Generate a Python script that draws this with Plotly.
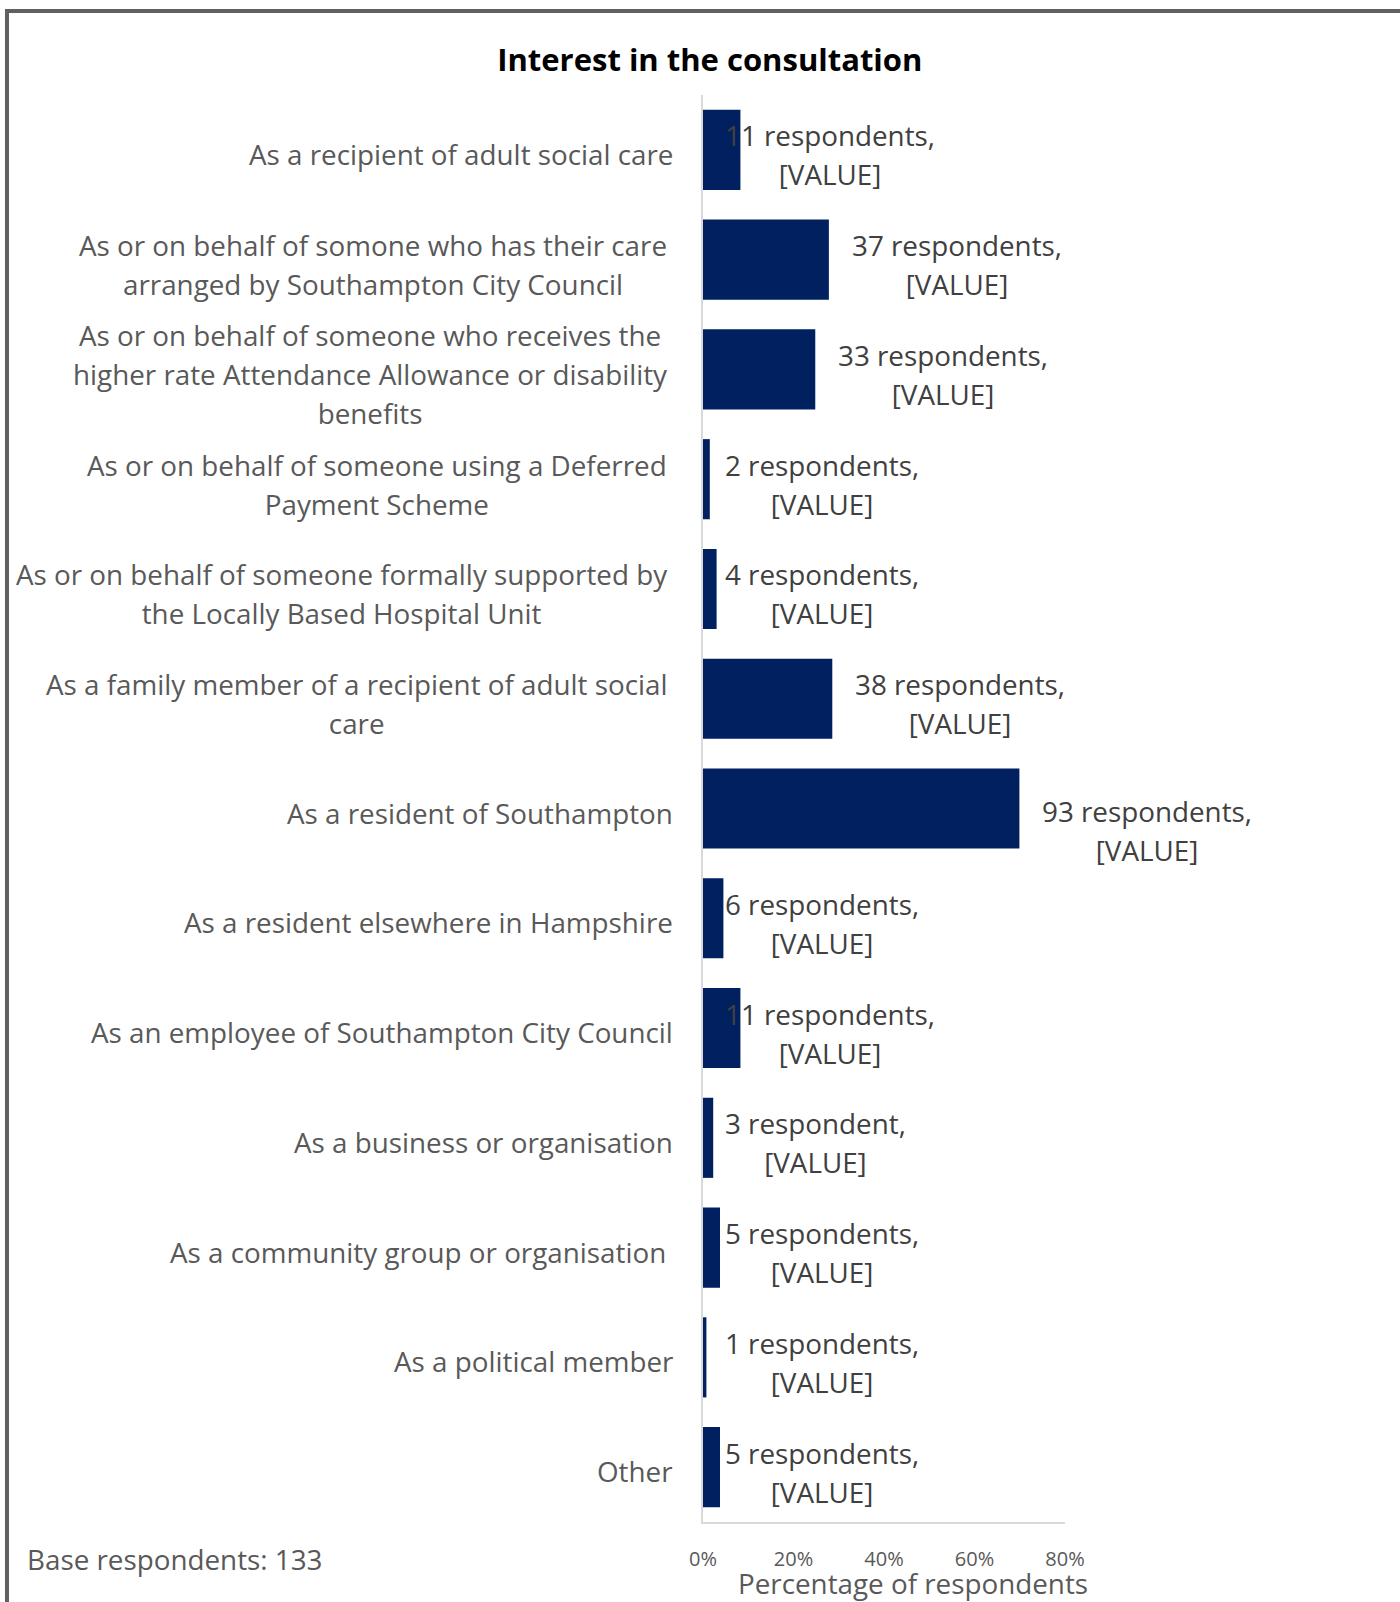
import plotly.graph_objects as go

# Survey responses: why respondents are interested in the consultation
categories = [
    "As a recipient of adult social care",
    "As or on behalf of somone who has their care<br>arranged by Southampton City Council",
    "As or on behalf of someone who receives the<br>higher rate Attendance Allowance or disability<br>benefits",
    "As or on behalf of someone using a Deferred<br>Payment Scheme",
    "As or on behalf of someone formally supported by<br>the Locally Based Hospital Unit",
    "As a family member of a recipient of adult social<br>care",
    "As a resident of Southampton",
    "As a resident elsewhere in Hampshire",
    "As an employee of Southampton City Council",
    "As a business or organisation",
    "As a community group or organisation\u00a0",
    "As a political member",
    "Other",
]
respondents = [11, 37, 33, 2, 4, 38, 93, 6, 11, 3, 5, 1, 5]
respondent_word = ["respondents"] * 9 + ["respondent"] + ["respondents"] * 3
base_respondents = 133
x_ticks = [0, 20, 40, 60, 80]
x_tick_labels = ["0%", "20%", "40%", "60%", "80%"]

FONT = "Open Sans"
LABEL_GREY = "#595959"
VALUE_GREY = "#404040"
NAVY = "#002060"
LABEL_PX = 27.8

pct = [n / base_respondents * 100 for n in respondents]
ypos = list(range(len(categories)))

fig = go.Figure(
    go.Bar(
        x=pct,
        y=ypos,
        orientation="h",
        marker=dict(color=NAVY, line=dict(width=0)),
        width=0.73,
        hoverinfo="skip",
    )
)

annotations = []

# Category labels, centred multi-line blocks right-aligned to the axis
for y, cat in zip(ypos, categories):
    multi = "<br>" in cat
    annotations.append(dict(
        x=0, xref="paper", y=y, yref="y",
        xanchor="right", yanchor="middle", align="center",
        xshift=-34 if multi else -28, yshift=-5 if multi else -4,
        text=f"<span style='font-size:{LABEL_PX}px'>{cat}</span>",
        showarrow=False,
        font=dict(family=FONT, size=30, color=LABEL_GREY),
    ))

# Data labels
for y, n, p, w in zip(ypos, respondents, pct, respondent_word):
    lx = p + 4.6 if p > 15 else 4.5
    annotations.append(dict(
        x=lx, xref="x", y=y, yref="y",
        xanchor="left", yanchor="middle", align="center",
        yshift=-22 if n == max(respondents) else -5,
        text=f"<span style='font-size:{LABEL_PX}px'>{n} {w},<br>[VALUE]</span>",
        showarrow=False,
        font=dict(family=FONT, size=30, color=VALUE_GREY),
    ))

# Base count and axis title
annotations.append(dict(
    x=-1.8743, xref="paper", y=-0.026, yref="paper",
    xanchor="left", yanchor="middle",
    text=f"Base respondents: {base_respondents}",
    showarrow=False, font=dict(family=FONT, size=LABEL_PX, color=LABEL_GREY),
))
annotations.append(dict(
    x=0.579, xref="paper", y=-0.0425, yref="paper",
    xanchor="center", yanchor="middle",
    text="Percentage of respondents",
    showarrow=False, font=dict(family=FONT, size=LABEL_PX, color=LABEL_GREY),
))

# Chart-area frame (top and left edges visible)
frame = dict(
    type="path", xref="paper", yref="paper",
    path="M -1.9227,-0.06 L -1.9227,1.0589 L 1.95,1.0589",
    line=dict(color="#606060", width=4),
)

fig.update_layout(
    width=1400, height=1602,
    margin=dict(l=703, r=335, t=95, b=80),
    paper_bgcolor="white", plot_bgcolor="white",
    showlegend=False,
    title=dict(
        text="<b>Interest in the consultation</b>",
        x=0.507, xanchor="center", y=1 - 60 / 1602, yanchor="middle",
        font=dict(family=FONT, size=31, color="black"),
    ),
    xaxis=dict(
        range=[0, 80], tickvals=x_ticks, ticktext=x_tick_labels,
        showgrid=False, zeroline=False,
        showline=True, linecolor="#d9d9d9", linewidth=1.5,
        ticks="", ticklabelstandoff=18,
        tickfont=dict(family=FONT, size=20, color=LABEL_GREY),
        fixedrange=True,
    ),
    yaxis=dict(
        range=[len(categories) - 0.5, -0.5],
        showticklabels=False, showgrid=False, zeroline=False,
        showline=True, linecolor="#d9d9d9", linewidth=1.5, ticks="",
        fixedrange=True,
    ),
    annotations=annotations,
    shapes=[frame],
)

fig.write_html("out.html")
